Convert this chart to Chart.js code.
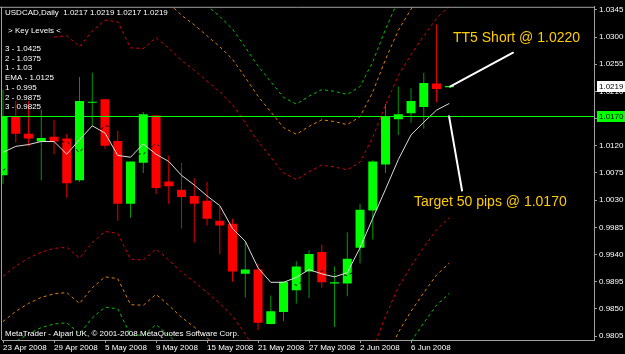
<!DOCTYPE html>
<html><head><meta charset="utf-8">
<style>html,body{margin:0;padding:0;background:#000;overflow:hidden}canvas{display:block}</style>
<script src="https://cdn.jsdelivr.net/npm/chart.js@4.4.1/dist/chart.umd.min.js"></script>
</head><body>
<canvas id="c" width="625" height="354"></canvas>
<script>
// ---- data (USDCAD daily, 23 Apr 2008 .. 11 Jun 2008) ----
const opens  = [1.0071,1.0169,1.0140,1.0127,1.0135,1.0132,1.0063,1.0191,1.0197,1.0128,1.0024,1.0092,1.0170,1.0061,1.0047,1.0037,1.0029,0.9996,0.9991,0.9908,0.9915,0.9825,0.9845,0.9881,0.9912,0.9944,0.9892,0.9892,0.9951,1.0013,1.0089,1.0164,1.0174,1.0184,1.0223,1.0217];
const highs  = [1.0213,1.0195,1.0194,1.0180,1.0163,1.0140,1.0234,1.0241,1.0198,1.0145,1.0094,1.0176,1.0171,1.0104,1.0092,1.0066,1.0060,1.0019,0.9999,0.9962,0.9925,0.9872,0.9895,0.9929,0.9947,0.9956,0.9920,0.9977,1.0024,1.0096,1.0189,1.0218,1.0215,1.0241,1.0321,1.0219];
const lows   = [1.0057,1.0125,1.0119,1.0063,1.0106,1.0034,1.0060,1.0153,1.0115,0.9996,1.0001,1.0075,1.0040,1.0024,0.9983,0.9960,0.9988,0.9941,0.9895,0.9869,0.9815,0.9824,0.9830,0.9859,0.9868,0.9885,0.9820,0.9871,0.9925,0.9965,1.0075,1.0138,1.0158,1.0148,1.0192,1.0217];
const closes = [1.0169,1.0140,1.0132,1.0133,1.0127,1.0058,1.0194,1.0192,1.0120,1.0024,1.0094,1.0172,1.0050,1.0053,1.0035,1.0024,0.9999,0.9988,0.9912,0.9915,0.9827,0.9846,0.9895,0.9920,0.9941,0.9894,0.9894,0.9933,1.0014,1.0094,1.0169,1.0172,1.0194,1.0224,1.0214,1.0219];
const ema    = [1.0109,1.0119,1.0122,1.0127,1.0127,1.0106,1.0130,1.0153,1.0141,1.0104,1.0101,1.0123,1.0106,1.0094,1.0071,1.0055,1.0037,1.0021,0.9983,0.9962,0.9918,0.9894,0.9894,0.9902,0.9915,0.9908,0.9903,0.9910,0.9951,1.0000,1.0048,1.0097,1.0138,1.0159,1.0179,1.0190];
const bandMid = [1.0079,1.0096,1.0109,1.0119,1.0125,1.0127,1.0109,1.0135,1.0153,1.0150,1.0107,1.0106,1.0124,1.0106,1.0086,1.0070,1.0052,1.0034,1.0013,0.9983,0.9952,0.9926,0.9900,0.9889,0.9902,0.9913,0.9910,0.9905,0.9918,0.9959,1.0013,1.0061,1.0096,1.0127,1.0156,1.0176];
const upper1 = [null,null,null,null,1.0300,1.0302,1.0284,1.0310,1.0328,1.0325,1.0282,1.0281,1.0299,1.0281,1.0261,1.0245,1.0227,1.0209,1.0188,1.0158,1.0127,1.0101,1.0075,1.0064,1.0077,1.0088,1.0085,1.0080,1.0093,1.0134,1.0188,1.0236,1.0271,1.0302,1.0331,1.0351];
const upper2 = [null,null,null,null,1.0375,1.0377,1.0359,1.0385,1.0403,1.0400,1.0357,1.0356,1.0374,1.0356,1.0336,1.0320,1.0302,1.0284,1.0263,1.0233,1.0202,1.0176,1.0150,1.0139,1.0152,1.0163,1.0160,1.0155,1.0168,1.0209,1.0263,1.0311,1.0346,1.0377,1.0406,1.0426];
const upper3 = [null,null,null,null,1.0425,1.0427,1.0409,1.0435,1.0453,1.0450,1.0407,1.0406,1.0424,1.0406,1.0386,1.0370,1.0352,1.0334,1.0313,1.0283,1.0252,1.0226,1.0200,1.0189,1.0202,1.0213,1.0210,1.0205,1.0218,1.0259,1.0313,1.0361,1.0396,1.0427,1.0456,1.0476];
const lower1 = [0.9904,0.9921,0.9934,0.9944,0.9950,0.9952,0.9934,0.9960,0.9978,0.9975,0.9932,0.9931,0.9949,0.9931,0.9911,0.9895,0.9877,0.9859,0.9838,0.9808,0.9777,0.9751,0.9725,0.9714,0.9727,0.9738,0.9735,0.9730,0.9743,0.9784,0.9838,0.9886,0.9921,0.9952,0.9981,1.0001];
const lower2 = [0.9829,0.9846,0.9859,0.9869,0.9875,0.9877,0.9859,0.9885,0.9903,0.9900,0.9857,0.9856,0.9874,0.9856,0.9836,0.9820,0.9802,0.9784,0.9763,0.9733,0.9702,0.9676,0.9650,0.9639,0.9652,0.9663,0.9660,0.9655,0.9668,0.9709,0.9763,0.9811,0.9846,0.9877,0.9906,0.9926];
const lower3 = [0.9779,0.9796,0.9809,0.9819,0.9825,0.9827,0.9809,0.9835,0.9853,0.9850,0.9807,0.9806,0.9824,0.9806,0.9786,0.9770,0.9752,0.9734,0.9713,0.9683,0.9652,0.9626,0.9600,0.9589,0.9602,0.9613,0.9610,0.9605,0.9618,0.9659,0.9713,0.9761,0.9796,0.9827,0.9856,0.9876];

const priceTicks = [1.0345,1.0300,1.0255,1.0210,1.0165,1.0120,1.0075,1.0030,0.9985,0.9940,0.9895,0.9850,0.9805];
const dateTickIndex  = [0,4,8,12,16,20,24,28,32];
const dateTickLabels = ['23 Apr 2008','29 Apr 2008','5 May 2008','9 May 2008','15 May 2008','21 May 2008','27 May 2008','2 Jun 2008','6 Jun 2008'];

const keyLevelNames  = ['3','2','1','EMA','1','2','3'];
const keyLevelValues = ['1.0425','1.0375','1.03','1.0125','0.995','0.9875','0.9825'];

const targetPrice = 1.0170;
const notes = [
  {text:'TT5 Short @ 1.0220', x:35.29, y:1.0298},
  {text:'Target 50 pips @ 1.0170', x:32.23, y:1.0026}
];
const arrows = [
  {x1:35.06, y1:1.0218, x2:40.0, y2:1.0274},
  {x1:34.98, y1:1.0169, x2:36.0, y2:1.0046}
];

// ---- chart ----
const FONT = '"Liberation Sans", Arial, sans-serif';
Chart.defaults.font.family = FONT;
const n = closes.length;
const idx = closes.map((_, i) => i);
const isUp = idx.map(i => closes[i] >= opens[i]);
const pts = arr => arr.map((v, i) => ({x: i, y: v}));

const bandDs = (data, color) => ({
  type: 'line', data: pts(data), borderColor: color, borderWidth: 1, borderDash: [3, 3],
  pointRadius: 0, fill: false, tension: 0, spanGaps: false, order: 1
});

const overlay = {
  id: 'overlay',
  beforeDraw(chart) {
    const c = chart.ctx;
    c.save(); c.fillStyle = '#000'; c.fillRect(0, 0, chart.width, chart.height); c.restore();
  },
  afterDatasetsDraw(chart) {
    const c = chart.ctx, a = chart.chartArea, xs = chart.scales.x, ys = chart.scales.y;
    c.save();
    // target level line
    const ty = Math.round(ys.getPixelForValue(targetPrice)) + 0.5;
    c.strokeStyle = '#00ff00'; c.lineWidth = 1;
    c.beginPath(); c.moveTo(a.left, ty); c.lineTo(a.right, ty); c.stroke();
    // arrows
    c.strokeStyle = '#ffffff'; c.lineWidth = 2; c.lineCap = 'round';
    arrows.forEach(ar => {
      c.beginPath();
      c.moveTo(xs.getPixelForValue(ar.x1), ys.getPixelForValue(ar.y1));
      c.lineTo(xs.getPixelForValue(ar.x2), ys.getPixelForValue(ar.y2));
      c.stroke();
    });
    // notes
    c.fillStyle = '#ffcc00'; c.font = '14px ' + FONT; c.textBaseline = 'middle'; c.textAlign = 'left';
    notes.forEach(nt => c.fillText(nt.text, xs.getPixelForValue(nt.x), ys.getPixelForValue(nt.y)));
    c.restore();
  },
  afterDraw(chart) {
    const c = chart.ctx, a = chart.chartArea, ys = chart.scales.y;
    c.save();
    // frame (top / left)
    c.strokeStyle = '#a0a0a0'; c.lineWidth = 1;
    c.beginPath(); c.moveTo(0, a.top + 0.5); c.lineTo(a.right + 1, a.top + 0.5); c.stroke();
    c.beginPath(); c.moveTo(a.left - 0.5, a.top); c.lineTo(a.left - 0.5, a.bottom); c.stroke();
    // price boxes
    c.font = '8px ' + FONT; c.textBaseline = 'middle'; c.textAlign = 'left';
    const box = (price, bg) => {
      const y = ys.getPixelForValue(price);
      c.fillStyle = bg; c.fillRect(a.right + 3, Math.round(y) - 5, 28, 11);
      c.fillStyle = '#000'; c.fillText(price.toFixed(4), a.right + 5, Math.round(y) + 0.5);
    };
    box(closes[n - 1], '#ffffff');
    box(targetPrice, '#00ff00');
    // texts
    c.fillStyle = '#ffffff';
    const L = a.left + 3;
    c.fillText('USDCAD,Daily  ' + [opens[n-1], highs[n-1], lows[n-1], closes[n-1]].map(v => v.toFixed(4)).join(' '), L, a.top + 6);
    c.fillText('> Key Levels <', L + 3, a.top + 24);
    keyLevelNames.forEach((k, i) => c.fillText(k + ' - ' + keyLevelValues[i], L, a.top + 42 + i * 9.7));
    c.fillText('MetaTrader - Alpari UK, \u00A9 2001-2008 MetaQuotes Software Corp.', L, a.bottom - 6);
    c.restore();
  }
};

new Chart(document.getElementById('c'), {
  type: 'bar',
  data: {
    datasets: [
      {type: 'line', data: pts(ema), borderColor: '#dcdcdc', borderWidth: 1, pointRadius: 0, fill: false, tension: 0, order: 0},
      {type: 'line', data: pts(bandMid), borderColor: '#000000', borderWidth: 1, borderDash: [3, 3], pointRadius: 0, fill: false, tension: 0, order: 1},
      bandDs(upper1, '#d00000'), bandDs(upper2, '#e08000'), bandDs(upper3, '#00c000'),
      bandDs(lower1, '#d00000'), bandDs(lower2, '#e08000'), bandDs(lower3, '#00c000'),
      {type: 'bar', data: idx.map(i => ({x: i, y: [Math.min(opens[i], closes[i]), Math.max(opens[i], closes[i])]})),
       backgroundColor: idx.map(i => isUp[i] ? '#00ff00' : '#ff0000'), borderWidth: 0,
       grouped: false, maxBarThickness: 9, minBarLength: 1, order: 2},
      {type: 'bar', data: idx.map(i => ({x: i, y: [lows[i], highs[i]]})),
       backgroundColor: idx.map(i => isUp[i] ? '#009a00' : '#e00000'), borderWidth: 0,
       grouped: false, maxBarThickness: 1, order: 3}
    ]
  },
  options: {
    responsive: false, animation: false, devicePixelRatio: 1,
    layout: {padding: {left: 2, top: 2, right: 0, bottom: 0}},
    plugins: {legend: {display: false}, tooltip: {enabled: false}, title: {display: false}},
    scales: {
      x: {
        type: 'linear', min: -0.08, max: 46.35, offset: false,
        grid: {display: true, drawOnChartArea: false, drawTicks: true, tickLength: 3, color: '#a0a0a0', offset: false},
        border: {display: true, color: '#a0a0a0'},
        ticks: {color: '#ffffff', font: {size: 8}, align: 'start', maxRotation: 0, autoSkip: false, padding: 0,
          callback: v => { const k = dateTickIndex.indexOf(v); return k >= 0 ? dateTickLabels[k] : ''; }},
        afterBuildTicks: s => { s.ticks = dateTickIndex.map(v => ({value: v})); },
        afterFit: s => { s.height = 14; }
      },
      y: {
        position: 'right', min: 0.97985, max: 1.0350,
        grid: {display: true, drawOnChartArea: false, drawTicks: true, tickLength: 3, color: '#a0a0a0'},
        border: {display: true, color: '#a0a0a0'},
        ticks: {color: '#ffffff', font: {size: 8}, padding: 2, callback: v => Number(v).toFixed(4)},
        afterBuildTicks: s => { s.ticks = priceTicks.map(v => ({value: v})); },
        afterFit: s => { s.width = 31; }
      }
    }
  },
  plugins: [overlay]
});
</script>
</body></html>
